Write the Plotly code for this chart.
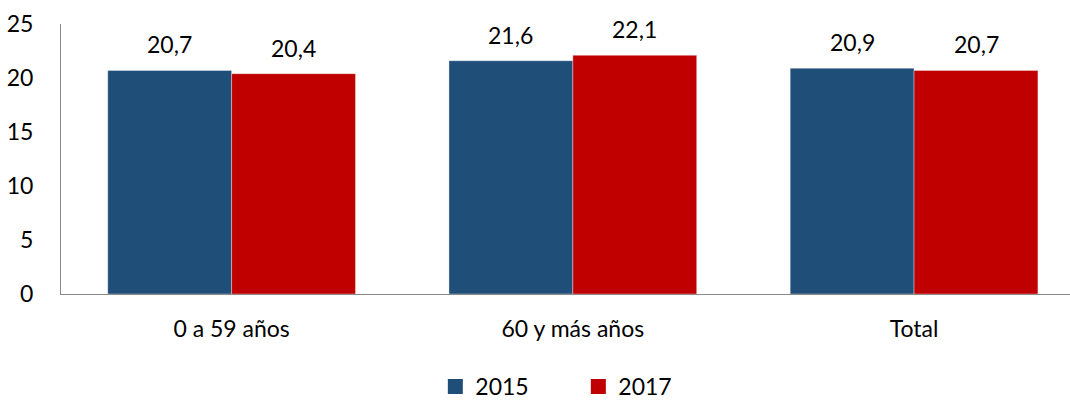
import plotly.graph_objects as go

categories = ["0 a 59 años", "60 y más años", "Total"]
series_names = ["2015", "2017"]
values_2015 = [20.7, 21.6, 20.9]
values_2017 = [20.4, 22.1, 20.7]
value_labels_2015 = ["20,7", "21,6", "20,9"]
value_labels_2017 = ["20,4", "22,1", "20,7"]
y_ticks = [0, 5, 10, 15, 20, 25]

colors = ["#1F4E79", "#C00000"]
FONT = "Lato, 'Open Sans', sans-serif"
FS = 23

fig = go.Figure()
for name, vals, col in zip(series_names, [values_2015, values_2017], colors):
    fig.add_trace(go.Bar(
        x=categories, y=vals, name=name,
        marker=dict(color=col, line=dict(width=0.6, color="rgba(255,255,255,0.6)")),
        hoverinfo="skip", showlegend=False,
    ))
# legend entries with larger square swatches
for name, col in zip(series_names, colors):
    fig.add_trace(go.Scatter(
        x=[None], y=[None], mode="markers", name=name,
        marker=dict(symbol="square", size=15, color=col),
        showlegend=True,
    ))

annotations = []
for labels, vals, shift in [(value_labels_2015, values_2015, -62), (value_labels_2017, values_2017, 62)]:
    for c, v, t in zip(categories, vals, labels):
        annotations.append(dict(
            x=c, y=v, text=t, showarrow=False, xshift=shift,
            yanchor="bottom", yshift=10,
            font=dict(family=FONT, size=FS, color="#000000"),
        ))

fig.update_layout(
    width=1070, height=408,
    margin=dict(l=61, r=0, t=24, b=114, autoexpand=False),
    paper_bgcolor="white", plot_bgcolor="white",
    barmode="group", bargap=0.274, bargroupgap=0,
    font=dict(family=FONT, size=FS, color="#000000"),
    annotations=annotations,
    showlegend=True,
    legend=dict(
        orientation="h", x=0.371, xanchor="left",
        yref="container", y=-0.02, yanchor="bottom",
        font=dict(family=FONT, size=FS, color="#000000"),
        entrywidth=98, entrywidthmode="pixels",
        itemwidth=30, tracegroupgap=0,
    ),
    xaxis=dict(
        range=[-0.5, 2.457], showgrid=False, zeroline=False,
        showline=True, linecolor="#898989", linewidth=1,
        ticks="", ticklabelstandoff=14,
        tickfont=dict(family=FONT, size=FS, color="#000000"),
        fixedrange=True,
    ),
    yaxis=dict(
        range=[0, 25], tickvals=y_ticks, showgrid=False, zeroline=False,
        showline=True, linecolor="#898989", linewidth=1,
        ticks="", ticklabelstandoff=22,
        tickfont=dict(family=FONT, size=FS, color="#000000"),
        fixedrange=True,
    ),
)

fig.write_html(
    "out.html",
    config={"displayModeBar": False},
    post_script="document.body.style.margin='0';document.body.style.overflow='hidden';",
)
